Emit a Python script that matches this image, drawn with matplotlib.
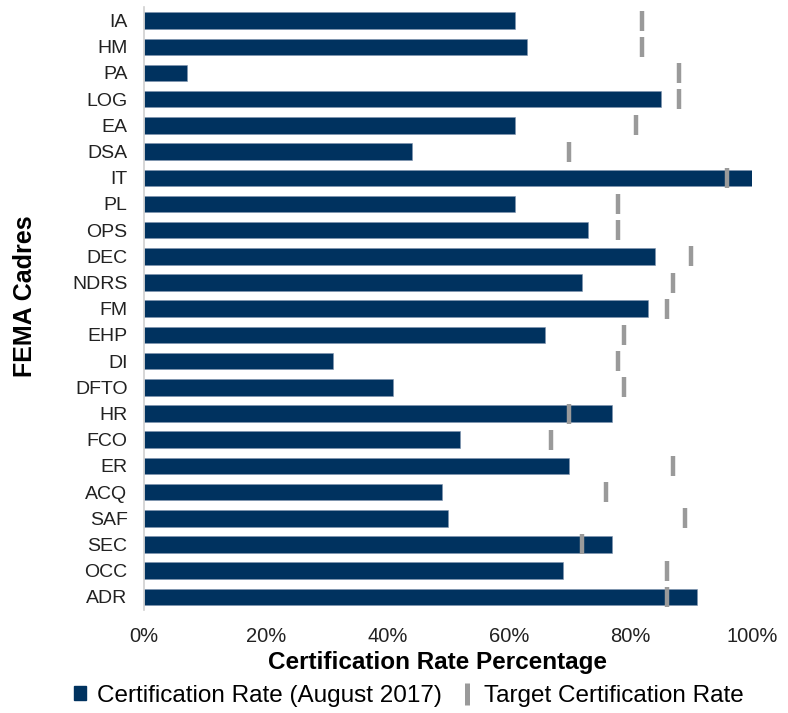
import matplotlib
matplotlib.use("Agg")
import matplotlib.pyplot as plt
from matplotlib.lines import Line2D
from matplotlib.patches import Patch
from matplotlib.ticker import PercentFormatter

plt.rcParams['font.family'] = ['Liberation Sans', 'DejaVu Sans']

cadres = ["IA", "HM", "PA", "LOG", "EA", "DSA", "IT", "PL", "OPS", "DEC", "NDRS", "FM",
          "EHP", "DI", "DFTO", "HR", "FCO", "ER", "ACQ", "SAF", "SEC", "OCC", "ADR"]
cert_rate = [61, 63, 7, 85, 61, 44, 100, 61, 73, 84, 72, 83,
             66, 31, 41, 77, 52, 70, 49, 50, 77, 69, 91]
target_rate = [82, 82, 88, 88, 81, 70, 96, 78, 78, 90, 87, 86,
               79, 78, 79, 70, 67, 87, 76, 89, 72, 86, 86]
x_ticks = [0, 20, 40, 60, 80, 100]

bar_color = "#00325F"
target_color = "#9A9A9A"

fig = plt.figure(figsize=(7.88, 7.13), dpi=100)
ax = fig.add_axes([0.183, 0.1445, 0.771, 0.845])

ypos = list(range(len(cadres)))
ax.barh(ypos, cert_rate, height=0.63, color=bar_color, edgecolor="#7F93AE", linewidth=0.4, zorder=2)
ax.plot(target_rate, ypos, linestyle="none", marker="|", markersize=15,
        markeredgewidth=3.2, color=target_color, zorder=3)

ax.set_ylim(len(cadres) - 0.5, -0.5)
ax.set_xlim(0, 100)
ax.set_yticks(ypos)
ax.set_yticklabels(cadres, fontsize=14, color="#222222")
ax.set_xticks(x_ticks)
ax.xaxis.set_major_formatter(PercentFormatter(decimals=0))
ax.tick_params(axis="x", length=0, pad=12, labelsize=14.5, labelcolor="#222222")
ax.tick_params(axis="y", length=0, pad=12)

for s in ["top", "right", "bottom"]:
    ax.spines[s].set_visible(False)
ax.spines["left"].set_color("#D0D0D0")
ax.spines["left"].set_linewidth(1.2)

ax.set_xlabel("Certification Rate Percentage", fontsize=17.5, fontweight="bold")
ax.xaxis.set_label_coords(0.483, -0.068)
fig.text(0.032, 0.585, "FEMA Cadres", rotation=90, fontsize=18, fontweight="bold",
         ha="center", va="center")

handles = [Patch(facecolor=bar_color, edgecolor=bar_color),
           Line2D([], [], linestyle="none", marker="|", markersize=16,
                  markeredgewidth=3.6, color=target_color)]
fig.legend(handles, ["Certification Rate (August 2017)", "Target Certification Rate"],
           loc="center", bbox_to_anchor=(0.519, 0.024), ncol=2, frameon=False,
           fontsize=17.5, handlelength=0.5, handleheight=0.5, handletextpad=0.45,
           columnspacing=0.8, borderpad=0, borderaxespad=0)

fig.savefig("out.png", dpi=100)
